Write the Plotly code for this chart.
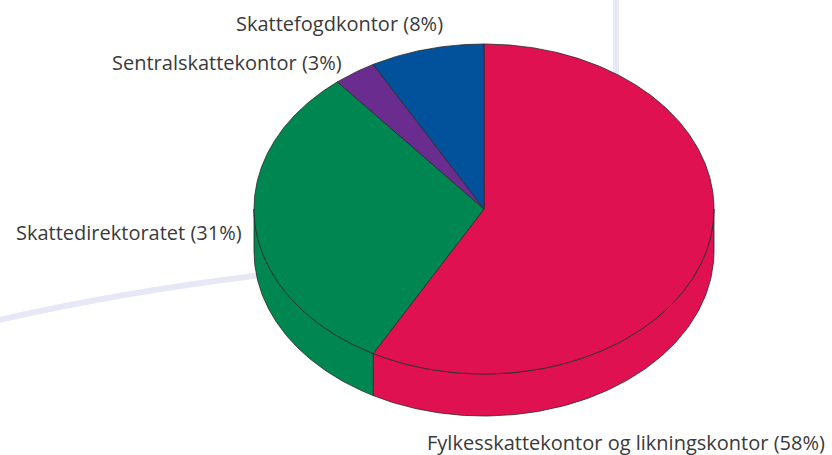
import numpy as np
import plotly.graph_objects as go

labels = ["Fylkesskattekontor og likningskontor", "Skattedirektoratet",
          "Sentralskattekontor", "Skattefogdkontor"]
values = [58, 31, 3, 8]
colors = ["#E01150", "#008651", "#6A2C8F", "#02519B"]

# geometry (pixel-like data space)
cx, cy, rx, ry, depth = 484, 209, 230, 165, 42
line_col = "#2a2a2a"

def pt(t):
    r = np.radians(t)
    return cx + rx * np.sin(r), cy - ry * np.cos(r)

total = sum(values)
bounds = np.concatenate([[0], np.cumsum(values) / total * 360])

fig = go.Figure()

# side walls (front half: 90..270 deg clockwise from top)
for i in range(len(values)):
    a0, a1 = bounds[i], bounds[i + 1]
    b0, b1 = max(a0, 90), min(a1, 270)
    if b1 <= b0:
        continue
    t = np.linspace(b0, b1, 120)
    x, y = pt(t)
    xs = np.concatenate([x, x[::-1], [x[0]]])
    ys = np.concatenate([y, (y + depth)[::-1], [y[0]]])
    fig.add_trace(go.Scatter(x=xs, y=ys, mode="lines", fill="toself",
                             fillcolor=colors[i], line=dict(color=line_col, width=0.8),
                             hoverinfo="skip", showlegend=False))

# top face
for i in range(len(values)):
    a0, a1 = bounds[i], bounds[i + 1]
    t = np.linspace(a0, a1, max(int((a1 - a0) * 2), 8))
    x, y = pt(t)
    xs = np.concatenate([[cx], x, [cx]])
    ys = np.concatenate([[cy], y, [cy]])
    fig.add_trace(go.Scatter(x=xs, y=ys, mode="lines", fill="toself",
                             fillcolor=colors[i], line=dict(color=line_col, width=0.8),
                             hoverinfo="text", text=f"{labels[i]} ({values[i]}%)",
                             showlegend=False))

# labels
label_pos = [
    dict(x=827, y=442, xanchor="right"),
    dict(x=244, y=232, xanchor="right"),
    dict(x=344, y=62, xanchor="right"),
    dict(x=445, y=23, xanchor="right"),
]
for i, p in enumerate(label_pos):
    fig.add_annotation(x=p["x"], y=p["y"], xanchor=p["xanchor"], yanchor="middle",
                       text=f"{labels[i]} ({round(values[i] / total * 100)}%)",
                       showarrow=False,
                       font=dict(family="Open Sans", size=20, color="#3a3a3a"))

# decorative background lines
bg = "#E6E8F5"
fig.add_shape(type="line", x0=616, x1=616, y0=-10, y1=200, layer="below",
              line=dict(color=bg, width=6))
fig.add_shape(type="path", path="M -10 322 Q 120 292 262 275", layer="below",
              line=dict(color=bg, width=6))

fig.update_layout(
    width=832, height=455,
    margin=dict(l=0, r=0, t=0, b=0),
    paper_bgcolor="white", plot_bgcolor="white",
    xaxis=dict(range=[0, 832], visible=False, fixedrange=True),
    yaxis=dict(range=[455, 0], visible=False, fixedrange=True),
)

fig.write_html("out.html", config={"displayModeBar": False},
               post_script="document.body.style.margin='0';document.body.style.overflow='hidden';")
